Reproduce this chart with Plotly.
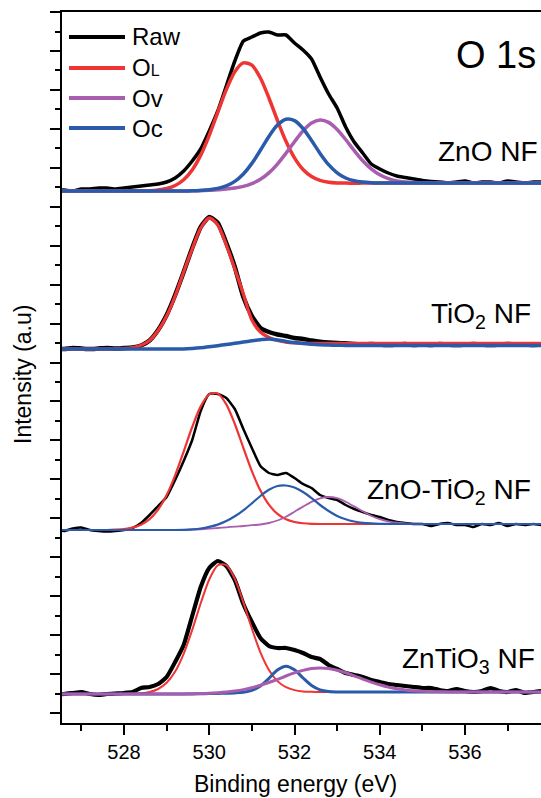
import plotly.graph_objects as go

# ---------------- data ----------------
energy = [526.4, 526.6, 526.8, 527.0, 527.2, 527.4, 527.6, 527.8, 528.0, 528.2,
          528.4, 528.6, 528.8, 529.0, 529.2, 529.4, 529.6, 529.8, 530.0, 530.2,
          530.4, 530.6, 530.8, 531.0, 531.2, 531.4, 531.6, 531.8, 532.0, 532.2,
          532.4, 532.6, 532.8, 533.0, 533.2, 533.4, 533.6, 533.8, 534.0, 534.2,
          534.4, 534.6, 534.8, 535.0, 535.2, 535.4, 535.6, 535.8, 536.0, 536.2,
          536.4, 536.6, 536.8, 537.0, 537.2, 537.4, 537.6, 537.8, 538.0]

# ZnO NF
zno_raw = [1, 1, 0, 2, 2, 3, 3, 2, 3, 4,
           5, 6, 7, 9, 13, 20, 30, 42, 60, 80,
           105, 130, 150, 154, 158, 159, 156, 156, 148, 141,
           132, 114, 97, 83, 64, 49, 38, 27, 22, 18,
           15, 13.5, 12, 10.5, 9.5, 9, 8, 9, 10, 8,
           9, 9, 8, 10, 9, 8, 9, 9, 9]
zno_ol = [0, 0, 0, 0, 0, 0, 0, 0, 0, 0,
          0.1, 0.3, 1.0, 2.5, 5.5, 11.3, 21.1, 35.9, 55.7, 78.7,
          101.4, 119.3, 128.1, 125.8, 113.0, 93.0, 70.5, 49.7, 33.1, 21.5,
          14.5, 10.6, 8.8, 8.1, 7.9, 7.8, 7.9, 8, 8, 8,
          8, 8, 8, 8, 8, 8, 8, 8, 8, 8,
          8, 8, 8, 8, 8, 8, 8, 8, 8]
zno_ov = [0, 0, 0, 0, 0, 0, 0, 0, 0, 0,
          0, 0, 0, 0, 0, 0, 0.2, 0.4, 0.7, 1.25,
          1.9, 3.0, 4.6, 7.4, 11.7, 18.1, 26.9, 37.7, 49.3, 60.1,
          67.9, 70.9, 68.6, 61.6, 51.5, 40.5, 30.3, 22.1, 16.2, 12.4,
          10.1, 9.0, 8.4, 8.15, 8, 8, 8, 8, 8, 8,
          8, 8, 8, 8, 8, 8, 8, 8, 8]
zno_oc = [0, 0, 0, 0, 0, 0, 0, 0, 0, 0,
          0, 0, 0, 0, 0, 0, 0.2, 0.6, 1.3, 2.6,
          5.1, 9.6, 17.0, 27.6, 40.8, 54.6, 65.9, 71.8, 70.4, 62.5,
          50.5, 37.6, 26.3, 18.2, 13.0, 10.2, 8.9, 8.3, 8.0, 8,
          8, 8, 8, 8, 8, 8, 8, 8, 8, 8,
          8, 8, 8, 8, 8, 8, 8, 8, 8]

# TiO2 NF
tio2_raw = [0.5, 0, 1, 0.5, 0, 0.5, 1, 0.5, 1, 1.5,
            3.5, 8.5, 19, 34, 54, 77, 101, 122, 132, 126,
            106, 82, 52, 33, 21, 17, 14.5, 13, 11, 10,
            8.5, 7.3, 6.5, 6, 5.7, 5, 4.5, 5, 4.5, 4,
            4.5, 5, 4, 4.5, 4, 5, 4.5, 4, 4.5, 5,
            4.5, 4, 4.5, 5, 4.5, 4.5, 4, 4.5, 4.5]
tio2_ol = [0, 0, 0, 0, 0, 0, 0, 0.2, 0.5, 1.4,
           3.7, 8.5, 18.5, 33, 53, 77, 100, 121, 131, 124,
           104, 80, 55, 29, 17, 11.5, 8.5, 7, 6.2, 5.8,
           5.5, 5.5, 5.5, 5.5, 5.5, 5.5, 5.5, 5.5, 5.5, 5.5,
           5.5, 5.5, 5.5, 5.5, 5.5, 5.5, 5.5, 5.5, 5.5, 5.5,
           5.5, 5.5, 5.5, 5.5, 5.5, 5.5, 5.5, 5.5, 5.5]
tio2_oc = [0, 0, 0, 0, 0, 0, 0, 0, 0, 0,
           0, 0, 0, 0, 0, 0, 0.5, 1.2, 2.2, 3.3,
           4.5, 5.7, 7.0, 8.2, 9.3, 10.0, 9.0, 7.6, 6.4, 5.4,
           4.7, 4.2, 3.9, 3.7, 3.6, 3.5, 3.5, 3.5, 3.5, 3.5,
           3.5, 3.5, 3.5, 3.5, 3.5, 3.5, 3.5, 3.5, 3.5, 3.5,
           3.5, 3.5, 3.5, 3.5, 3.5, 3.5, 3.5, 3.5, 3.5]

# ZnO-TiO2 NF
znotio2_raw = [0, -1, 1.5, 2.5, 0, -1, -1.5, -1, 0, 2,
               7, 15, 24, 33, 50, 69, 90, 119, 136, 136,
               132, 121, 101, 82, 64, 57, 55, 57, 52, 46,
               42, 35, 32, 30, 25, 21, 18, 15, 13, 10,
               8, 7, 6, 6, 4, 6, 7, 5, 5, 3,
               6, 5, 7, 4, 6, 5, 6, 5, 6]
znotio2_ol = [0, 0, 0, 0, 0, 0, 0, 0.4, 1.0, 2.4,
              5.3, 10.9, 20.4, 34.9, 54.7, 78.4, 103.0, 123.6, 135.8, 136.5,
              125.6, 106.0, 82.2, 58.9, 39.5, 25.3, 16.1, 10.7, 8.0, 6.75,
              6.2, 6, 6, 6, 6, 6, 6, 6, 6, 6,
              6, 6, 6, 6, 6, 6, 6, 6, 6, 6,
              6, 6, 6, 6, 6, 6, 6, 6, 6]
znotio2_ov = [0, 0, 0, 0, 0, 0, 0, 0, 0, 0,
              0, 0, 0, 0, 0, 0, 0.3, 0.7, 1.3, 2.0,
              2.7, 3.4, 4.0, 4.8, 5.5, 7.0, 9.5, 13.2, 18.3, 23.35,
              28.15, 31.7, 33, 31.8, 28.3, 23.6, 18.7, 14.3, 10.9, 8.7,
              7.3, 6.6, 6.24, 6.1, 6, 6, 6, 6, 6, 6,
              6, 6, 6, 6, 6, 6, 6, 6, 6]
znotio2_oc = [0, 0, 0, 0, 0, 0, 0, 0, 0, 0,
              0, 0, 0, 0, 0, 0.15, 0.66, 1.5, 3.1, 5.4,
              8.9, 13.7, 19.7, 26.7, 34.0, 40.2, 44.0, 44.5, 42.5, 38.0,
              31.85, 25.0, 19.0, 14.1, 10.7, 8.5, 7.2, 6.55, 6.2, 6.1,
              6, 6, 6, 6, 6, 6, 6, 6, 6, 6,
              6, 6, 6, 6, 6, 6, 6, 6, 6]

# ZnTiO3 NF
zntio3_raw = [0, 0, 1, 2, 0, -1, 0, 0.5, 1, 2,
              6, 7, 10, 17, 32, 49, 78, 107, 126, 133,
              128, 114, 90, 72, 56, 48, 46, 46, 44, 41,
              37, 35, 29, 25, 21, 19, 17, 14, 12, 10,
              9, 8, 7, 6, 6, 4, 3, 5, 3, 2,
              3, 6, 3, 2, 4, 1, 2, 3, 2]
zntio3_ol = [0, 0, 0, 0, 0, 0, 0, 0, 0, 0.2,
             0.7, 2.0, 5.0, 11.2, 22.5, 40.2, 64.0, 90.7, 114.5, 128.7,
             128.9, 115.1, 91.7, 65.3, 41.7, 24.1, 12.9, 6.8, 3.85, 2.6,
             2.2, 2, 2, 2, 2, 2, 2, 2, 2, 2,
             2, 2, 2, 2, 2, 2, 2, 2, 2, 2,
             2, None, None, None, None, None, None, None, None]
zntio3_ov = [0, 0, 0, 0, 0, 0, 0, 0, 0, 0,
             0, 0, 0, 0, 0, 0.1, 0.2, 0.4, 0.8, 1.3,
             2.0, 3.0, 4.4, 6.3, 8.7, 11.5, 14.6, 18.0, 21.05, 23.6,
             25.4, 26, 25.4, 23.7, 21.2, 18.2, 14.9, 11.9, 9.2, 6.9,
             5.2, 4.0, 3.2, 2.7, 2.37, 2.2, 2.1, 2, 2, 2,
             2, 2, 2, 2, 2, 2, 2, 2, 2]
zntio3_oc = [0, 0, 0, 0, 0, 0, 0, 0, 0, 0,
             0, 0, 0, 0, 0, 0, 0.1, 0.2, 0.4, 0.6,
             0.8, 1.1, 1.75, 3.6, 8.0, 15.7, 24.0, 27.8, 24.15, 16.0,
             8.5, 4.2, 2.55, 2.1, 2, 2, 2, 2, 2, 2,
             2, 2, 2, 2, 2, 2, 2, 2, 2, 2,
             2, 2, 2, 2, 2, 2, 2, 2, 2]

sample_labels = ["ZnO NF", "TiO<sub>2</sub> NF", "ZnO-TiO<sub>2</sub> NF", "ZnTiO<sub>3</sub> NF"]
component_names = ["Raw", "O<span style='font-size:16px'>L</span>", "Ov", "Oc"]
x_ticks = [528, 530, 532, 534, 536]

# ---------------- layout / style (positions kept separate from data) ----------------
W, H = 541, 798
ML, MR, MT, MB = 62, 0, 12, 75
PW, PH = W - ML - MR, H - MT - MB
panel_offsets = [532, 374, 193, 29]

RED, VIO, BLU, BLK = "#EF3434", "#A95DAE", "#2A5BAA", "#000000"
FONT = "Liberation Sans, Arial, Helvetica, sans-serif"

panels = [
    (zno_raw, 3.5, [(zno_ol, RED, 3.5), (zno_ov, VIO, 3.5), (zno_oc, BLU, 3.5)]),
    (tio2_raw, 4.5, [(tio2_ol, RED, 3.3), (tio2_oc, BLU, 3.5)]),
    (znotio2_raw, 2.5, [(znotio2_ol, RED, 2.2), (znotio2_ov, VIO, 1.8), (znotio2_oc, BLU, 2.2)]),
    (zntio3_raw, 4.2, [(zntio3_ol, RED, 2.0), (zntio3_oc, BLU, 3.0), (zntio3_ov, VIO, 3.0)]),
]

fig = go.Figure()
for (raw, rw, comps), off in zip(panels, panel_offsets):
    fig.add_trace(go.Scatter(
        x=energy, y=[v + off for v in raw], mode="lines",
        line=dict(color=BLK, width=rw, shape="spline", smoothing=0.5),
        showlegend=False, hoverinfo="skip"))
    for series, col, w in comps:
        fig.add_trace(go.Scatter(
            x=energy, y=[None if v is None else v + off for v in series], mode="lines",
            line=dict(color=col, width=w, shape="spline", smoothing=0.8),
            showlegend=False, hoverinfo="skip"))


def px_x(px):
    return (px - ML) / PW


def px_y(py):
    return (H - MB - py) / PH


annotations = []
label_pos = [(540, 151), (533, 316), (533, 491), (537, 660)]
for txt, (xr, yc) in zip(sample_labels, label_pos):
    annotations.append(dict(text=txt, xref="paper", yref="paper", x=px_x(xr), y=px_y(yc),
                            xanchor="right", yanchor="middle", showarrow=False,
                            font=dict(family=FONT, size=28, color="black")))
annotations.append(dict(text="O 1s", xref="paper", yref="paper", x=px_x(538), y=px_y(55),
                        xanchor="right", yanchor="middle", showarrow=False,
                        font=dict(family=FONT, size=38, color="black")))

legend_rows = [37, 68, 98, 128]
legend_cols = [BLK, RED, VIO, BLU]
shapes = []
for name, col, yr in zip(component_names, legend_cols, legend_rows):
    shapes.append(dict(type="line", xref="paper", yref="paper",
                       x0=px_x(69), x1=px_x(125), y0=px_y(yr), y1=px_y(yr),
                       line=dict(color=col, width=4)))
    annotations.append(dict(text=name, xref="paper", yref="paper", x=px_x(130), y=px_y(yr),
                            xanchor="left", yanchor="middle", showarrow=False,
                            font=dict(family=FONT, size=24, color="black")))

annotations.append(dict(text="Binding energy (eV)", xref="paper", yref="paper",
                        x=px_x(295), y=px_y(784), xanchor="center", yanchor="middle",
                        showarrow=False, font=dict(family=FONT, size=23, color="black")))
annotations.append(dict(text="Intensity (a.u)", xref="paper", yref="paper",
                        x=px_x(23), y=px_y(375), xanchor="center", yanchor="middle",
                        textangle=-90, showarrow=False,
                        font=dict(family=FONT, size=23, color="black")))

fig.update_layout(
    width=W, height=H,
    margin=dict(l=ML, r=MR, t=MT, b=MB, pad=0),
    paper_bgcolor="white", plot_bgcolor="white",
    showlegend=False,
    annotations=annotations, shapes=shapes,
    font=dict(family=FONT, color="black"),
)
fig.update_xaxes(
    range=[526.5455, 537.783], showgrid=False, zeroline=False,
    showline=True, linecolor="black", linewidth=2, mirror=True,
    tickmode="array", tickvals=x_ticks, ticktext=[str(t) for t in x_ticks],
    ticks="outside", ticklen=10, tickwidth=2, tickcolor="black",
    tickfont=dict(family=FONT, size=20, color="black"),
    minor=dict(tickmode="linear", tick0=527, dtick=1, ticks="outside",
               ticklen=6, tickwidth=2, tickcolor="black", showgrid=False),
)
fig.update_yaxes(
    range=[0, PH], showgrid=False, zeroline=False,
    showline=True, linecolor="black", linewidth=2, mirror=False,
    tickmode="linear", tick0=10, dtick=38.94, showticklabels=False,
    ticks="outside", ticklen=10, tickwidth=2, tickcolor="black",
    minor=dict(tickmode="linear", tick0=10, dtick=19.47, ticks="outside",
               ticklen=5, tickwidth=2, tickcolor="black", showgrid=False),
)

fig.write_html("out.html", include_plotlyjs=True, config={"displayModeBar": False})
